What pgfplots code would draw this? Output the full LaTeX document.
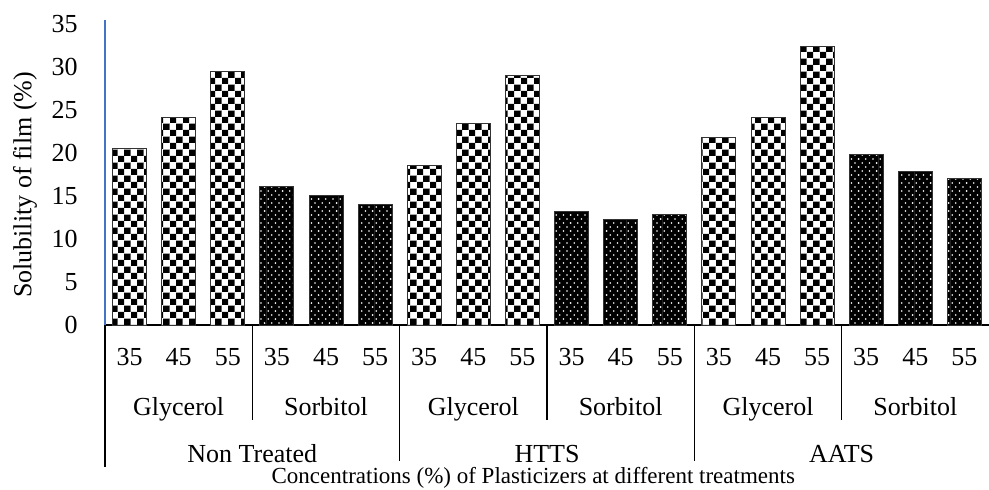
\documentclass[border=0pt]{standalone}
\usepackage{fontspec}
\setmainfont{Liberation Serif}
\usepackage{pgfplots}
\pgfplotsset{compat=1.18}
\usetikzlibrary{patterns}

\definecolor{axisblue}{RGB}{68,114,196}

% black/white checkerboard (glycerol)
\pgfdeclarepatterninherentlycolored{glycheck}{\pgfpointorigin}{\pgfqpoint{6.6pt}{6.6pt}}{\pgfqpoint{6.6pt}{6.6pt}}{
  \pgfsetfillcolor{white}
  \pgfpathrectangle{\pgfpointorigin}{\pgfqpoint{6.6pt}{6.6pt}}
  \pgfusepath{fill}
  \pgfsetfillcolor{black}
  \pgfpathrectangle{\pgfpointorigin}{\pgfqpoint{3.3pt}{3.3pt}}
  \pgfpathrectangle{\pgfqpoint{3.3pt}{3.3pt}}{\pgfqpoint{3.3pt}{3.3pt}}
  \pgfusepath{fill}
}
% white dots on black (sorbitol)
\pgfdeclarepatterninherentlycolored{sordots}{\pgfpointorigin}{\pgfqpoint{3.7pt}{4.1pt}}{\pgfqpoint{3.6pt}{4pt}}{
  \pgfsetfillcolor{black}
  \pgfpathrectangle{\pgfpointorigin}{\pgfqpoint{3.7pt}{4.1pt}}
  \pgfusepath{fill}
  \pgfsetfillcolor{white}
  \pgfpathcircle{\pgfqpoint{0.9pt}{1pt}}{0.45pt}
  \pgfpathcircle{\pgfqpoint{2.7pt}{3pt}}{0.45pt}
  \pgfusepath{fill}
}

\begin{document}
\begin{tikzpicture}[font=\fontsize{13}{15.6}\selectfont]
\begin{axis}[
  name=ax,
  scale only axis,
  width=442pt, height=152.5pt,
  xmin=-0.5, xmax=17.5,
  ymin=0, ymax=35.5,
  axis x line*=bottom,
  axis y line*=left,
  x axis line style={black, line width=0.75pt, -},
  y axis line style={axisblue, line width=0.6pt, -},
  xtick={0,...,17},
  xticklabels={35,45,55,35,45,55,35,45,55,35,45,55,35,45,55,35,45,55},
  ytick={0,5,...,35},
  major tick length=0pt,
  /pgf/number format/assume math mode=true,
  xticklabel style={anchor=base, yshift=-20pt, inner sep=0pt},
  yticklabel style={anchor=east, xshift=-13.5pt, inner sep=0pt},
  ybar, bar width=17pt,
  clip=false,
]
% Glycerol
\addplot[bar shift=0pt, draw=black!80, line width=0.5pt, pattern=glycheck] coordinates {
  (0,20.6) (1,24.2) (2,29.5)
  (6,18.6) (7,23.5) (8,29.0)
  (12,21.8) (13,24.2) (14,32.4)
};
% Sorbitol
\addplot[bar shift=0pt, draw=black!80, line width=0.5pt, pattern=sordots] coordinates {
  (3,16.1) (4,15.1) (5,14.0)
  (9,13.2) (10,12.3) (11,12.9)
  (15,19.8) (16,17.9) (17,17.1)
};

% category separators
\draw[black, line width=0.6pt] (axis cs:-0.5,0) -- ([yshift=-71pt]axis cs:-0.5,0);
\draw[black, line width=0.6pt] (axis cs:5.5,0) -- ([yshift=-68pt]axis cs:5.5,0);
\draw[black, line width=0.6pt] (axis cs:11.5,0) -- ([yshift=-68pt]axis cs:11.5,0);
\draw[black, line width=0.6pt] (axis cs:2.5,0) -- ([yshift=-47.5pt]axis cs:2.5,0);
\draw[black, line width=0.6pt] (axis cs:8.5,0) -- ([yshift=-47.5pt]axis cs:8.5,0);
\draw[black, line width=0.6pt] (axis cs:14.5,0) -- ([yshift=-47.5pt]axis cs:14.5,0);

% plasticizer labels
\node[anchor=base, inner sep=0pt] at ([yshift=-45pt]axis cs:1,0) {Glycerol};
\node[anchor=base, inner sep=0pt] at ([yshift=-45pt]axis cs:4,0) {Sorbitol};
\node[anchor=base, inner sep=0pt] at ([yshift=-45pt]axis cs:7,0) {Glycerol};
\node[anchor=base, inner sep=0pt] at ([yshift=-45pt]axis cs:10,0) {Sorbitol};
\node[anchor=base, inner sep=0pt] at ([yshift=-45pt]axis cs:13,0) {Glycerol};
\node[anchor=base, inner sep=0pt] at ([yshift=-45pt]axis cs:16,0) {Sorbitol};

% treatment labels
\node[anchor=base, inner sep=0pt] at ([yshift=-68.5pt]axis cs:2.5,0) {Non Treated};
\node[anchor=base, inner sep=0pt] at ([yshift=-68.5pt]axis cs:8.5,0) {HTTS};
\node[anchor=base, inner sep=0pt] at ([yshift=-68.5pt]axis cs:14.5,0) {AATS};

% axis titles
\node[anchor=base, inner sep=0pt, font=\fontsize{11.5}{13.8}\selectfont] at ([yshift=-79pt]axis cs:8.22,0) {Concentrations (\%) of Plasticizers at different treatments};
\node[rotate=90, anchor=center, inner sep=0pt] at ([xshift=-40pt]axis cs:-0.5,16.3) {Solubility of film (\%)};
\end{axis}
\pgfresetboundingbox
\path ([shift={(-52.5pt,-82pt)}]ax.south west) rectangle ([shift={(0pt,10pt)}]ax.north east);
\end{tikzpicture}
\end{document}
